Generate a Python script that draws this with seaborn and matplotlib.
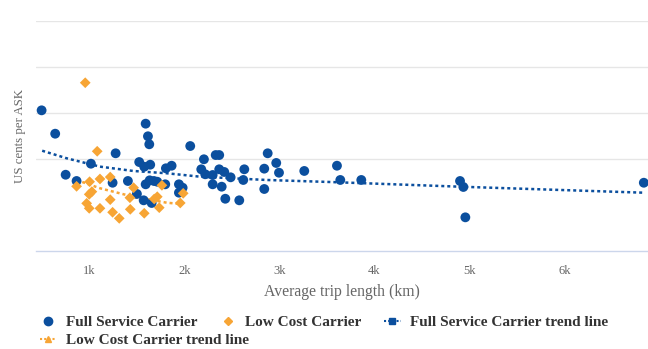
# plot.py - unit cost vs average trip length, full service vs low cost carriers

import numpy as np
import pandas as pd
import matplotlib
matplotlib.use("Agg")
import matplotlib.pyplot as plt
from matplotlib.lines import Line2D
import seaborn as sns

# Full service carriers: average trip length (km) and cost (US cents per ASK)
fsc_km = [499, 642, 752, 867, 1018, 1246, 1278, 1407, 1502, 1526, 1573, 1594, 1618,
          1632, 1579, 1642, 1594, 1636, 1681, 1657, 1716, 1800, 1807, 1867, 1944, 1983,
          1944, 2063, 2207, 2179, 2221, 2299, 2331, 2368, 2368, 2421, 2488, 2299, 2394,
          2432, 2579, 2632, 2621, 2842, 2842, 2878, 2968, 2997, 3263, 3607, 3642, 3863,
          4902, 4937, 4958, 6836]
fsc_cost = [15.29, 12.75, 8.29, 7.61, 9.49, 7.42, 10.62, 7.61, 6.20, 9.67, 5.51, 13.84,
            12.47, 11.60, 9.16, 9.38, 7.25, 7.68, 7.61, 5.22, 7.53, 7.25, 8.99, 9.27,
            7.25, 6.88, 6.34, 11.41, 9.97, 8.88, 8.34, 8.26, 10.43, 10.43, 8.88, 8.59,
            8.01, 7.25, 6.99, 5.68, 5.51, 8.88, 7.72, 8.95, 6.74, 10.62, 9.57, 8.51,
            8.70, 9.27, 7.72, 7.72, 7.61, 6.96, 3.66, 7.42]

# Low cost carriers
lcc_km = [958, 1084, 867, 1004, 1113, 1221, 1028, 1000, 973, 1000, 1113, 1221, 1246,
          1316, 1428, 1432, 1467, 1579, 1684, 1716, 1737, 1765, 1958, 1989]
lcc_cost = [18.29, 10.84, 7.03, 7.53, 7.83, 8.04, 6.45, 6.16, 5.18, 4.64, 4.64, 5.58,
            4.21, 3.55, 5.79, 4.53, 6.88, 4.10, 5.65, 5.90, 4.71, 7.14, 5.22, 6.27]

# trend lines
fsc_trend_km = [505, 762, 1113, 1463, 1815, 2165, 2516, 2867, 3534, 4902, 6828]
fsc_trend_cost = [10.90, 10.08, 9.17, 8.70, 8.45, 8.08, 7.90, 7.72, 7.50, 6.99, 6.34]
lcc_trend_km = [867, 1113, 1463, 1815, 1965]
lcc_trend_cost = [7.72, 6.82, 5.90, 5.25, 5.11]

x_ticks = [1000, 2000, 3000, 4000, 5000, 6000]
x_tick_labels = ["1k", "2k", "3k", "4k", "5k", "6k"]

blue = "#0b4f9e"
orange = "#f7a535"

df = pd.DataFrame({
    "km": fsc_km + lcc_km,
    "cost": fsc_cost + lcc_cost,
    "carrier": ["Full Service Carrier"] * len(fsc_km) + ["Low Cost Carrier"] * len(lcc_km),
})

sns.set_style("white")
plt.rcParams["font.family"] = ["Liberation Serif", "DejaVu Serif"]

fig = plt.figure(figsize=(6.48, 3.49), dpi=100)
ax = fig.add_axes([36 / 648, 98 / 349, 612 / 648, 230 / 349])

sns.lineplot(x=fsc_trend_km, y=fsc_trend_cost, ax=ax, color=blue, linestyle=(0, (1.2, 1.2)),
             linewidth=1.8, zorder=2)
sns.lineplot(x=lcc_trend_km, y=lcc_trend_cost, ax=ax, color=orange, linestyle=(0, (1.2, 1.2)),
             linewidth=1.8, zorder=2)

sns.scatterplot(data=df, x="km", y="cost", hue="carrier", style="carrier",
                palette={"Full Service Carrier": blue, "Low Cost Carrier": orange},
                markers={"Full Service Carrier": "o", "Low Cost Carrier": "D"},
                size="carrier", sizes={"Full Service Carrier": 50, "Low Cost Carrier": 30},
                linewidth=0, legend=False, ax=ax, zorder=3)

ax.set_xlim(440, 6880)
ax.set_ylim(0, 25)
ax.set_yticks([10, 15, 20, 25])
ax.set_yticklabels([])
ax.yaxis.grid(True, color="#e6e6e6", linewidth=1)
ax.set_xticks(x_ticks)
ax.set_xticklabels(x_tick_labels)
ax.tick_params(axis="x", length=7, width=1, color="#ccd6eb", labelcolor="#666666",
               labelsize=9, pad=3)
ax.tick_params(axis="y", length=0)
for s in ["top", "right", "left"]:
    ax.spines[s].set_visible(False)
ax.spines["bottom"].set_color("#ccd6eb")
ax.spines["bottom"].set_linewidth(1)

ax.set_xlabel("Average trip length (km)", fontsize=11.3, color="#666666", labelpad=5)
ax.set_ylabel("US cents per ASK", fontsize=9.3, color="#666666", labelpad=4)

# legend, laid out like the original (three entries, then one on a second row)
leg_font = {"weight": "bold", "size": 11}
h1 = [
    Line2D([], [], marker="o", color=blue, linestyle="none", markersize=6),
    Line2D([], [], marker="D", color=orange, linestyle="none", markersize=4.5),
    Line2D([], [], marker="s", color=blue, linestyle=(0, (1, 1)), linewidth=1.5, markersize=5),
]
l1 = fig.legend(h1, ["Full Service Carrier", "Low Cost Carrier", "Full Service Carrier trend line"],
                loc="center left", bbox_to_anchor=(0.040, 27 / 349), ncol=3, frameon=False,
                handlelength=1.1, columnspacing=1.45, handletextpad=0.6, prop=leg_font)
for t in l1.get_texts():
    t.set_color("#333333")
h2 = [Line2D([], [], marker="^", color=orange, linestyle=(0, (1, 1)), linewidth=1.5, markersize=5)]
l2 = fig.legend(h2, ["Low Cost Carrier trend line"], loc="center left",
                bbox_to_anchor=(0.040, 9 / 349), frameon=False, handlelength=1.1,
                handletextpad=0.6, prop=leg_font)
for t in l2.get_texts():
    t.set_color("#333333")

plt.savefig("out.png", dpi=100)
